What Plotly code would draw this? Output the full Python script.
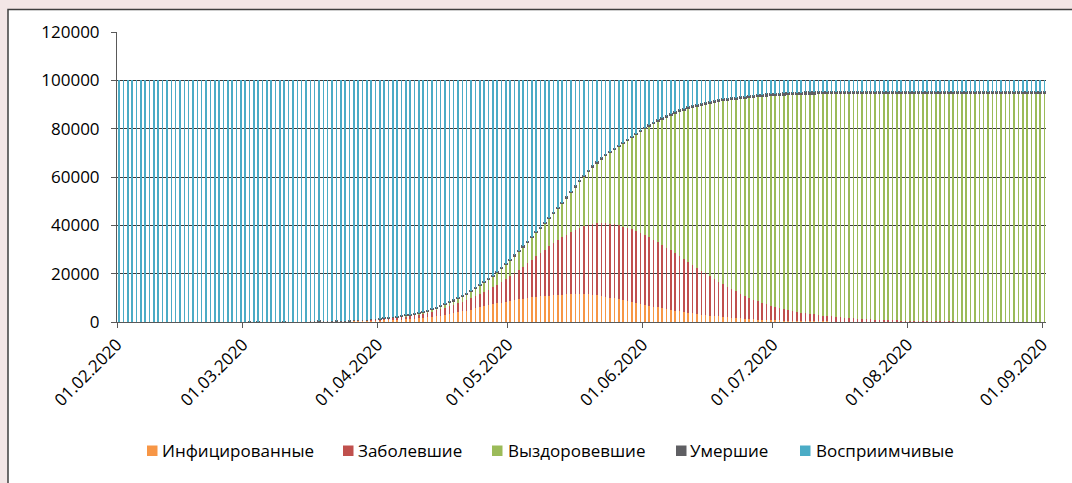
import plotly.graph_objects as go
import pandas as pd

# ---------------- data ----------------
dates = pd.date_range("2020-02-01", "2020-09-01", freq="D").strftime("%Y-%m-%d").tolist()

tick_vals = ["2020-02-01", "2020-03-01", "2020-04-01", "2020-05-01",
             "2020-06-01", "2020-07-01", "2020-08-01", "2020-09-01"]
tick_text = ["01.02.2020", "01.03.2020", "01.04.2020", "01.05.2020",
             "01.06.2020", "01.07.2020", "01.08.2020", "01.09.2020"]

series_names = ["Инфицированные", "Заболевшие", "Выздоровевшие", "Умершие", "Восприимчивые"]

infected = [
    0, 0, 0, 0, 0, 0, 0, 0, 0, 0, 0, 0, 0, 0, 0, 0, 0, 0, 0, 0, 0, 0, 0, 0, 0, 0, 0, 0, 0,
    30, 33, 36, 40, 44, 49, 54, 59, 65, 72,
    79, 87, 96, 106, 117, 129, 142, 156, 172, 190,
    209, 230, 254, 280, 308, 340, 374, 412, 454, 500,
    551, 610, 677, 751, 834, 926, 1027, 1140, 1266, 1405,
    1560, 1731, 1922, 2133, 2393, 2673, 2973, 3293, 3633, 3993,
    4363, 4750, 5170, 5600, 6030, 6460, 6880, 7290, 7690, 8070,
    8430, 8770, 9090, 9390, 9670, 9930, 10170, 10390, 10590, 10770,
    10930, 11070, 11200, 11320, 11420, 11500, 11550, 11570, 11510, 11400,
    11240, 11030, 10770, 10470, 10140, 9790, 9420, 9040, 8650, 8260,
    7870, 7480, 7100, 6730, 6370, 6020, 5680, 5350, 5030, 4720,
    4420, 4130, 3850, 3590, 3340, 3100, 2880, 2670, 2470, 2280,
    2100, 1930, 1770, 1620, 1480, 1350, 1230, 1120, 1020, 930,
    850, 775, 705, 640, 580, 525, 475, 430, 390, 355,
    320, 290, 262, 237, 214, 193, 174, 157, 142, 128,
    115, 104, 94, 85, 77, 69, 62, 56, 50, 45,
    41, 37, 33, 30, 27, 24, 22, 20, 18, 16,
    14, 13, 12, 11, 10, 9, 8, 7, 6, 6,
    5, 5, 4, 4, 3, 3, 3, 2, 2, 2,
    2, 1, 1, 1, 1,
]

sick = [
    0, 0, 0, 0, 0, 0, 0, 0, 0, 0, 0, 0, 0, 0, 0, 0, 0, 0, 0, 0, 0, 0, 0, 0, 0, 0, 0, 0, 0,
    3, 4, 5, 6, 8, 9, 11, 14, 16, 19,
    23, 27, 32, 37, 43, 50, 59, 69, 80, 92,
    107, 124, 142, 164, 189, 217, 250, 287, 328, 376,
    431, 490, 558, 634, 716, 814, 923, 1045, 1184, 1335,
    1510, 1709, 1928, 2167, 2397, 2647, 2907, 3177, 3457, 3747,
    4057, 4450, 4780, 5150, 5570, 6040, 6570, 7160, 7810, 8530,
    9320, 10180, 11110, 12110, 13180, 14320, 15530, 16760, 18010, 19230,
    20420, 21580, 22700, 23780, 24780, 25700, 26550, 27330, 28090, 28750,
    29310, 29770, 30130, 30380, 30510, 30560, 30530, 30410, 30250, 30040,
    29730, 29370, 28900, 28370, 27730, 27030, 26270, 25450, 24620, 23730,
    22830, 21920, 21000, 20060, 19110, 18150, 17220, 16280, 15380, 14470,
    13600, 12720, 11880, 11030, 10220, 9500, 8820, 8180, 7580, 7020,
    6500, 6025, 5595, 5190, 4810, 4455, 4125, 3820, 3540, 3285,
    3050, 2830, 2628, 2443, 2266, 2107, 1956, 1813, 1678, 1552,
    1435, 1326, 1226, 1135, 1043, 961, 888, 814, 750, 690,
    634, 583, 537, 493, 453, 416, 382, 350, 322, 296,
    272, 249, 228, 209, 192, 176, 162, 149, 137, 125,
    115, 105, 97, 89, 82, 75, 69, 64, 58, 53,
    49, 46, 42, 38, 35,
]

recovered = [
    0, 0, 0, 0, 0, 0, 0, 0, 0, 0, 0, 0, 0, 0, 0, 0, 0, 0, 0, 0, 0, 0, 0, 0, 0, 0, 0, 0, 0,
    1, 2, 4, 5, 6, 8, 10, 12, 15, 18,
    21, 25, 29, 34, 39, 45, 51, 58, 65, 73,
    81, 90, 100, 110, 121, 142, 175, 200, 227, 257,
    291, 328, 363, 403, 447, 492, 542, 596, 651, 716,
    775, 835, 895, 1093, 1203, 1322, 1461, 1620, 1799, 1998,
    2217, 2485, 2883, 3270, 3648, 4016, 4374, 4721, 5069, 5616,
    6163, 6719, 7286, 7863, 8350, 8847, 9344, 9890, 10377, 10954,
    11620, 12375, 13220, 14145, 15288, 16540, 17892, 19333, 20755, 22176,
    23667, 25198, 26639, 28080, 29542, 31112, 32732, 34522, 36341, 38189,
    40118, 42066, 44084, 46062, 48090, 50117, 52135, 54143, 56091, 58030,
    59908, 61727, 63676, 65415, 67105, 68745, 70296, 71807, 73238, 74639,
    75971, 77283, 78526, 79749, 80902, 81945, 82929, 83854, 84719, 85524,
    86269, 86955, 87581, 88168, 88714, 89221, 89679, 90096, 90474, 90812,
    91125, 91413, 91677, 91915, 92139, 92340, 92527, 92702, 92865, 93017,
    93156, 93284, 93400, 93506, 93610, 93703, 93785, 93866, 93937, 94004,
    94064, 94120, 94171, 94218, 94262, 94303, 94340, 94374, 94405, 94434,
    94461, 94486, 94509, 94529, 94548, 94566, 94582, 94597, 94611, 94624,
    94636, 94647, 94657, 94666, 94675, 94683, 94690, 94697, 94704, 94710,
    94715, 94720, 94725, 94730, 94734,
]

dead = [
    0, 0, 0, 0, 0, 0, 0, 0, 0, 0, 0, 0, 0, 0, 0, 0, 0, 0, 0, 0, 0, 0, 0, 0, 0, 0, 0, 0, 0,
    1, 1, 1, 1, 1, 1, 1, 1, 1, 1,
    1, 1, 1, 1, 1, 1, 1, 1, 1, 1,
    1, 1, 1, 1, 1, 1, 1, 1, 1, 2,
    2, 2, 2, 2, 3, 3, 3, 4, 4, 4,
    5, 5, 5, 7, 7, 8, 9, 10, 11, 12,
    13, 15, 17, 20, 22, 24, 26, 29, 31, 34,
    37, 41, 44, 47, 50, 53, 56, 60, 63, 66,
    70, 75, 80, 85, 92, 100, 108, 117, 125, 134,
    143, 152, 161, 170, 178, 188, 198, 208, 219, 231,
    242, 254, 266, 278, 290, 303, 315, 327, 339, 350,
    362, 373, 384, 395, 405, 415, 424, 433, 442, 451,
    459, 467, 474, 481, 488, 495, 501, 506, 511, 516,
    521, 525, 529, 532, 536, 539, 541, 544, 546, 548,
    550, 552, 553, 555, 556, 557, 559, 560, 561, 561,
    562, 563, 564, 564, 565, 566, 566, 567, 567, 567,
    568, 568, 568, 569, 569, 569, 569, 570, 570, 570,
    570, 570, 570, 571, 571, 571, 571, 571, 571, 571,
    571, 571, 571, 571, 571, 571, 571, 571, 571, 571,
    571, 571, 571, 571, 571,
]

susceptible = [
    100000, 100000, 100000, 100000, 100000, 100000, 100000, 100000, 100000, 100000,
    100000, 100000, 100000, 100000, 100000, 100000, 100000, 100000, 100000, 100000,
    100000, 100000, 100000, 100000, 100000, 100000, 100000, 100000, 100000,
    99965, 99960, 99954, 99948, 99941, 99933, 99924, 99914, 99903, 99890,
    99876, 99860, 99842, 99822, 99800, 99775, 99747, 99716, 99682, 99644,
    99602, 99555, 99503, 99445, 99381, 99300, 99200, 99100, 98990, 98865,
    98725, 98570, 98400, 98210, 98000, 97765, 97505, 97215, 96895, 96540,
    96150, 95720, 95250, 94600, 94000, 93350, 92650, 91900, 91100, 90250,
    89350, 88300, 87150, 85960, 84730, 83460, 82150, 80800, 79400, 77750,
    76050, 74290, 72470, 70590, 68750, 66850, 64900, 62900, 60960, 58980,
    56960, 54900, 52800, 50670, 48420, 46160, 43900, 41650, 39520, 37540,
    35640, 33850, 32300, 30900, 29630, 28350, 27120, 25820, 24540, 23280,
    22040, 20830, 19650, 18560, 17520, 16530, 15600, 14730, 13920, 13170,
    12480, 11850, 11090, 10540, 10040, 9590, 9180, 8810, 8470, 8160,
    7870, 7600, 7350, 7120, 6910, 6710, 6520, 6340, 6170, 6010,
    5860, 5720, 5590, 5470, 5360, 5260, 5180, 5110, 5050, 5000,
    4955, 4915, 4880, 4850, 4825, 4803, 4784, 4768, 4754, 4742,
    4732, 4723, 4716, 4710, 4705, 4701, 4699, 4697, 4696, 4694,
    4693, 4692, 4691, 4690, 4689, 4688, 4687, 4686, 4685, 4684,
    4683, 4682, 4681, 4680, 4679, 4678, 4677, 4676, 4675, 4674,
    4673, 4672, 4671, 4670, 4669, 4668, 4667, 4666, 4665, 4664,
    4663, 4662, 4661, 4660, 4659,
]

colors = ["#F79646", "#C0504D", "#9BBB59", "#5F5F63", "#4BACC6"]

# ---------------- figure ----------------
W, H = 1072, 483
ML, MR, MT, MB = 117, 26, 32, 161
PW, PH = W - ML - MR, H - MT - MB


def px(x):
    return (x - ML) / PW


def py(y):
    return (H - MB - y) / PH


fig = go.Figure()
for name, vals, col in zip(series_names, [infected, sick, recovered, dead, susceptible], colors):
    is_dead = name == "Умершие"
    fig.add_trace(go.Bar(
        x=dates, y=vals, name=name,
        xperiod=86400000, xperiodalignment="middle",
        marker=dict(color=col, line=dict(color=col, width=2.0 if is_dead else 0)),
        showlegend=False,
    ))

shapes = [dict(type="rect", xref="paper", yref="paper", layer="below",
               x0=px(8), x1=px(1100), y0=py(9.5), y1=py(520),
               fillcolor="white", line=dict(color="#3f3f3f", width=1.5))]
annotations = []
legend_pos = [(147, 162), (343, 358), (492, 508), (676, 690), (800, 816)]
for (sx, tx), name, col in zip(legend_pos, series_names, colors):
    shapes.append(dict(type="rect", xref="paper", yref="paper",
                       x0=px(sx), x1=px(sx + 10.5), y0=py(456), y1=py(445.5),
                       fillcolor=col, line=dict(width=0)))
    annotations.append(dict(xref="paper", yref="paper", x=px(tx - 2), y=py(451),
                            xanchor="left", yanchor="middle", showarrow=False,
                            text=name, font=dict(size=17, color="#000000")))

fig.update_layout(
    width=W, height=H,
    margin=dict(l=ML, r=MR, t=MT, b=MB, pad=0),
    paper_bgcolor="#F3E6E6", plot_bgcolor="rgba(0,0,0,0)",
    barmode="stack", bargap=0.64,
    showlegend=False,
    font=dict(family="Open Sans, Noto Sans, sans-serif", size=17, color="#000000"),
    shapes=shapes, annotations=annotations,
    xaxis=dict(type="date", range=["2020-02-01", "2020-09-01 20:30"],
               tickvals=tick_vals, ticktext=tick_text, tickangle=-45,
               ticks="outside", ticklen=5, tickcolor="#595959", tickwidth=1,
               showline=True, linecolor="#595959", linewidth=1,
               showgrid=False, zeroline=False, tickfont=dict(size=17)),
    yaxis=dict(range=[0, 120000], dtick=20000, tick0=0, tickformat="d",
               ticks="outside", ticklen=5, tickcolor="#595959",
               showline=True, linecolor="#595959", linewidth=1,
               showgrid=True, gridcolor="#3a3a3a", gridwidth=1,
               zeroline=False, ticklabelstandoff=8, tickfont=dict(size=17)),
)

fig.write_html("out.html",
               config={"staticPlot": True, "displayModeBar": False},
               post_script="document.body.style.margin='0';document.body.style.background='#F3E6E6';")
